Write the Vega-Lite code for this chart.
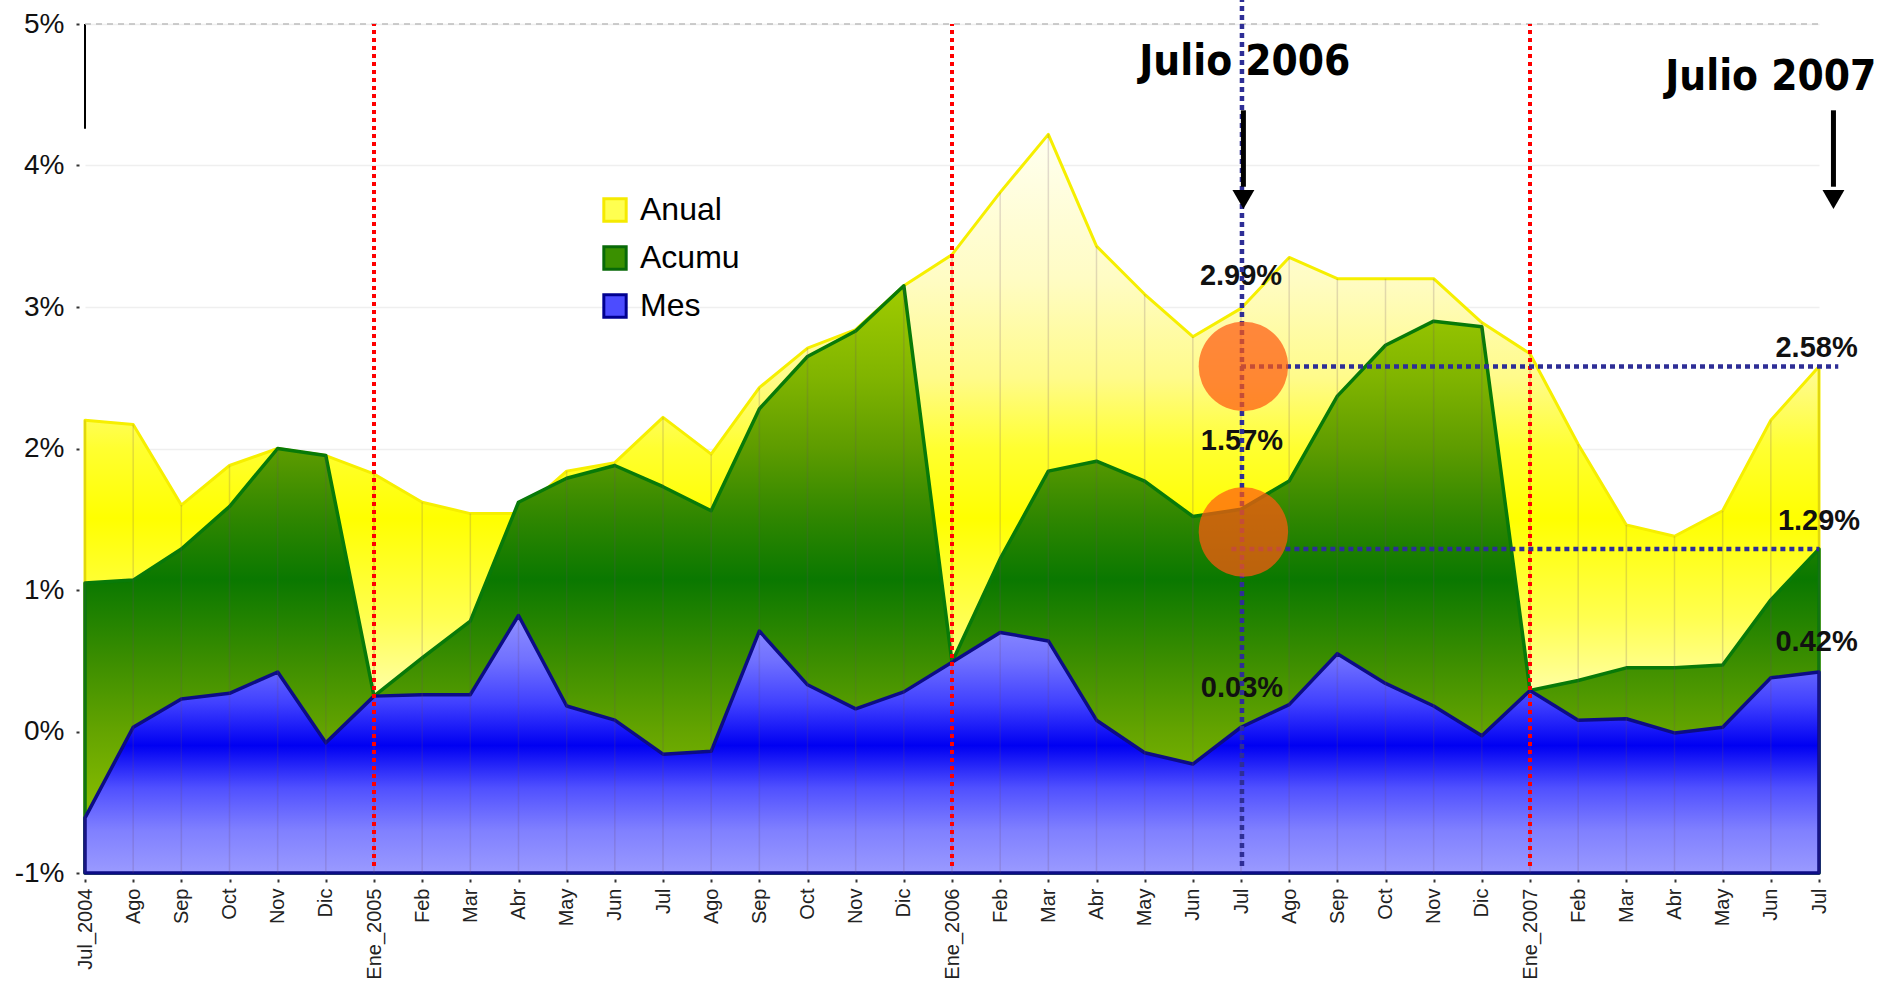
{
  "$schema": "https://vega.github.io/schema/vega-lite/v6.json",
  "width": 1734,
  "height": 849,
  "autosize": {"type": "none"},
  "padding": {"left": 85, "top": 24, "right": 64, "bottom": 112},
  "background": "white",
  "config": {"view": {"stroke": null}, "font": "Liberation Sans"},
  "datasets": {
    "series": [
      {"i": 0, "mes": "Jul_2004", "anual": 2.20, "acumu": 1.05, "mesv": -0.61},
      {"i": 1, "mes": "Ago", "anual": 2.17, "acumu": 1.07, "mesv": 0.03},
      {"i": 2, "mes": "Sep", "anual": 1.60, "acumu": 1.29, "mesv": 0.23},
      {"i": 3, "mes": "Oct", "anual": 1.88, "acumu": 1.59, "mesv": 0.27},
      {"i": 4, "mes": "Nov", "anual": 2.00, "acumu": 2.00, "mesv": 0.42},
      {"i": 5, "mes": "Dic", "anual": 1.95, "acumu": 1.95, "mesv": -0.08},
      {"i": 6, "mes": "Ene_2005", "anual": 1.82, "acumu": 0.25, "mesv": 0.25},
      {"i": 7, "mes": "Feb", "anual": 1.62, "acumu": 0.52, "mesv": 0.26},
      {"i": 8, "mes": "Mar", "anual": 1.54, "acumu": 0.78, "mesv": 0.26},
      {"i": 9, "mes": "Abr", "anual": 1.54, "acumu": 1.62, "mesv": 0.82},
      {"i": 10, "mes": "May", "anual": 1.84, "acumu": 1.79, "mesv": 0.18},
      {"i": 11, "mes": "Jun", "anual": 1.90, "acumu": 1.88, "mesv": 0.08},
      {"i": 12, "mes": "Jul", "anual": 2.22, "acumu": 1.73, "mesv": -0.16},
      {"i": 13, "mes": "Ago", "anual": 1.96, "acumu": 1.56, "mesv": -0.14},
      {"i": 14, "mes": "Sep", "anual": 2.43, "acumu": 2.28, "mesv": 0.71},
      {"i": 15, "mes": "Oct", "anual": 2.71, "acumu": 2.65, "mesv": 0.33},
      {"i": 16, "mes": "Nov", "anual": 2.84, "acumu": 2.83, "mesv": 0.16},
      {"i": 17, "mes": "Dic", "anual": 3.15, "acumu": 3.15, "mesv": 0.28},
      {"i": 18, "mes": "Ene_2006", "anual": 3.37, "acumu": 0.49, "mesv": 0.49},
      {"i": 19, "mes": "Feb", "anual": 3.81, "acumu": 1.22, "mesv": 0.70},
      {"i": 20, "mes": "Mar", "anual": 4.22, "acumu": 1.84, "mesv": 0.64},
      {"i": 21, "mes": "Abr", "anual": 3.43, "acumu": 1.91, "mesv": 0.08},
      {"i": 22, "mes": "May", "anual": 3.09, "acumu": 1.77, "mesv": -0.15},
      {"i": 23, "mes": "Jun", "anual": 2.79, "acumu": 1.52, "mesv": -0.23},
      {"i": 24, "mes": "Jul", "anual": 2.99, "acumu": 1.57, "mesv": 0.03},
      {"i": 25, "mes": "Ago", "anual": 3.35, "acumu": 1.77, "mesv": 0.19},
      {"i": 26, "mes": "Sep", "anual": 3.20, "acumu": 2.37, "mesv": 0.55},
      {"i": 27, "mes": "Oct", "anual": 3.20, "acumu": 2.73, "mesv": 0.34},
      {"i": 28, "mes": "Nov", "anual": 3.20, "acumu": 2.90, "mesv": 0.18},
      {"i": 29, "mes": "Dic", "anual": 2.89, "acumu": 2.86, "mesv": -0.03},
      {"i": 30, "mes": "Ene_2007", "anual": 2.67, "acumu": 0.29, "mesv": 0.29},
      {"i": 31, "mes": "Feb", "anual": 2.03, "acumu": 0.36, "mesv": 0.08},
      {"i": 32, "mes": "Mar", "anual": 1.46, "acumu": 0.45, "mesv": 0.09},
      {"i": 33, "mes": "Abr", "anual": 1.38, "acumu": 0.45, "mesv": -0.01},
      {"i": 34, "mes": "May", "anual": 1.56, "acumu": 0.47, "mesv": 0.03},
      {"i": 35, "mes": "Jun", "anual": 2.20, "acumu": 0.93, "mesv": 0.38},
      {"i": 36, "mes": "Jul", "anual": 2.58, "acumu": 1.29, "mesv": 0.42}
    ],
    "ene": [{"i": 6, "a": -0.95, "b": 5}, {"i": 18, "a": -0.95, "b": 5}, {"i": 30, "a": -0.95, "b": 5}],
    "hlines": [{"x1": 24, "x2": 36.4, "v": 2.58}, {"x1": 23.8, "x2": 36, "v": 1.29}],
    "circles": [{"i": 24.05, "v": 2.58}, {"i": 24.05, "v": 1.41}],
    "pct": [
      {"i": 24.0, "v": 3.22, "t": "2.99%"},
      {"i": 24.02, "v": 2.05, "t": "1.57%"},
      {"i": 24.02, "v": 0.31, "t": "0.03%"},
      {"i": 35.95, "v": 2.71, "t": "2.58%"},
      {"i": 36.0, "v": 1.49, "t": "1.29%"},
      {"i": 35.95, "v": 0.63, "t": "0.42%"}
    ],
    "titles": [
      {"i": 24.08, "v": 4.643, "t": "Julio 2006"},
      {"i": 35.0, "v": 4.534, "t": "Julio 2007"}
    ],
    "arrows": [
      {"i": 24.05, "v1": 4.39, "v2": 3.85, "vh": 3.76},
      {"i": 36.3, "v1": 4.39, "v2": 3.85, "vh": 3.76}
    ]
  },
  "layer": [
    {
      "data": {"name": "series"},
      "mark": {
        "type": "area",
        "stroke": "#f6ef00",
        "strokeWidth": 3,
        "strokeJoin": "round",
        "fill": {
          "gradient": "linear", "x1": 0, "y1": 0, "x2": 0, "y2": 1,
          "stops": [
            {"offset": 0, "color": "#fffff0"},
            {"offset": 0.195, "color": "#fffcc4"},
            {"offset": 0.33, "color": "#fffb8a"},
            {"offset": 0.425, "color": "#ffff30"},
            {"offset": 0.52, "color": "#ffff00"},
            {"offset": 0.655, "color": "#ffff50"},
            {"offset": 0.75, "color": "#ffffa0"},
            {"offset": 1, "color": "#ffffd0"}
          ]
        }
      },
      "encoding": {
        "x": {
          "field": "i", "type": "quantitative",
          "scale": {"domain": [0, 36], "nice": false, "zero": false},
          "axis": {
            "values": [0,1,2,3,4,5,6,7,8,9,10,11,12,13,14,15,16,17,18,19,20,21,22,23,24,25,26,27,28,29,30,31,32,33,34,35,36],
            "labelExpr": "['Jul_2004','Ago','Sep','Oct','Nov','Dic','Ene_2005','Feb','Mar','Abr','May','Jun','Jul','Ago','Sep','Oct','Nov','Dic','Ene_2006','Feb','Mar','Abr','May','Jun','Jul','Ago','Sep','Oct','Nov','Dic','Ene_2007','Feb','Mar','Abr','May','Jun','Jul'][datum.value]",
            "labelAngle": -90,
            "labelFontSize": 20,
            "labelFont": "Liberation Sans",
            "labelColor": "#222222",
            "labelOverlap": false,
            "labelPadding": 6,
            "tickSize": 3,
            "tickColor": "#333333",
            "tickWidth": 2,
            "offset": 6,
            "domain": false,
            "grid": false,
            "title": null
          }
        },
        "y": {
          "field": "anual", "type": "quantitative",
          "scale": {"domain": [-1, 5], "nice": false, "zero": false},
          "axis": {
            "values": [-1, 0, 1, 2, 3, 4, 5],
            "labelExpr": "datum.value + '%'",
            "labelFontSize": 28,
            "labelFont": "Liberation Sans",
            "labelColor": "#111111",
            "labelPadding": 12,
            "tickSize": 3,
            "tickColor": "#333333",
            "tickWidth": 2,
            "offset": 6,
            "domain": false,
            "grid": true,
            "gridColor": "#efefef",
            "gridWidth": 1.5,
            "title": null
          }
        },
        "y2": {"datum": -1}
      }
    },
    {
      "data": {"name": "series"},
      "mark": {
        "type": "area",
        "stroke": "#087a08",
        "strokeWidth": 3.5,
        "strokeJoin": "round",
        "fill": {
          "gradient": "linear", "x1": 0, "y1": 0, "x2": 0, "y2": 1,
          "stops": [
            {"offset": 0, "color": "#a0cc00"},
            {"offset": 0.157, "color": "#80b400"},
            {"offset": 0.277, "color": "#5e9c00"},
            {"offset": 0.398, "color": "#2e8600"},
            {"offset": 0.5, "color": "#0a7800"},
            {"offset": 0.639, "color": "#3c8e00"},
            {"offset": 0.759, "color": "#64a400"},
            {"offset": 0.88, "color": "#84ba00"},
            {"offset": 1, "color": "#90c000"}
          ]
        }
      },
      "encoding": {
        "x": {"field": "i", "type": "quantitative", "scale": {"domain": [0, 36], "nice": false, "zero": false}},
        "y": {"field": "acumu", "type": "quantitative", "scale": {"domain": [-1, 5], "nice": false, "zero": false}},
        "y2": {"datum": -1}
      }
    },
    {
      "data": {"name": "series"},
      "mark": {
        "type": "area",
        "stroke": "#0c0c86",
        "strokeWidth": 3.5,
        "strokeJoin": "round",
        "fill": {
          "gradient": "linear", "x1": 0, "y1": 0, "x2": 0, "y2": 1,
          "stops": [
            {"offset": 0, "color": "#9090ff"},
            {"offset": 0.176, "color": "#7070ff"},
            {"offset": 0.341, "color": "#4040ff"},
            {"offset": 0.505, "color": "#0000f2"},
            {"offset": 0.67, "color": "#5050ff"},
            {"offset": 0.835, "color": "#8080ff"},
            {"offset": 1, "color": "#9a9aff"}
          ]
        }
      },
      "encoding": {
        "x": {"field": "i", "type": "quantitative", "scale": {"domain": [0, 36], "nice": false, "zero": false}},
        "y": {"field": "mesv", "type": "quantitative", "scale": {"domain": [-1, 5], "nice": false, "zero": false}},
        "y2": {"datum": -1}
      }
    },
    {
      "data": {"name": "series"},
      "mark": {"type": "rule", "stroke": "#6a4a6a", "strokeOpacity": 0.2, "strokeWidth": 1.5},
      "encoding": {
        "x": {"field": "i", "type": "quantitative", "scale": {"domain": [0, 36], "nice": false, "zero": false}},
        "y": {"field": "anual", "type": "quantitative", "scale": {"domain": [-1, 5], "nice": false, "zero": false}},
        "y2": {"datum": -1}
      }
    },
    {
      "data": {"values": [{"i": 0, "a": 4.26, "b": 5}]},
      "mark": {"type": "rule", "stroke": "#000000", "strokeWidth": 2},
      "encoding": {
        "x": {"field": "i", "type": "quantitative", "scale": {"domain": [0, 36], "nice": false, "zero": false}},
        "y": {"field": "a", "type": "quantitative", "scale": {"domain": [-1, 5], "nice": false, "zero": false}},
        "y2": {"field": "b"}
      }
    },
    {
      "data": {"values": [{"x1": 0, "x2": 36, "v": 5}]},
      "mark": {"type": "rule", "stroke": "#bdbdbd", "strokeWidth": 1.5, "strokeDash": [6, 5]},
      "encoding": {
        "x": {"field": "x1", "type": "quantitative", "scale": {"domain": [0, 36], "nice": false, "zero": false}},
        "x2": {"field": "x2"},
        "y": {"field": "v", "type": "quantitative", "scale": {"domain": [-1, 5], "nice": false, "zero": false}}
      }
    },
    {
      "data": {"name": "ene"},
      "mark": {"type": "rule", "stroke": "#ff0000", "strokeWidth": 4, "strokeDash": [4, 4]},
      "encoding": {
        "x": {"field": "i", "type": "quantitative", "scale": {"domain": [0, 36], "nice": false, "zero": false}},
        "y": {"field": "a", "type": "quantitative", "scale": {"domain": [-1, 5], "nice": false, "zero": false}},
        "y2": {"field": "b"}
      }
    },
    {
      "data": {"name": "pct"},
      "mark": {"type": "text", "font": "Liberation Sans", "fontWeight": "bold", "fontSize": 29, "color": "#111111", "align": "center", "baseline": "middle"},
      "encoding": {
        "x": {"field": "i", "type": "quantitative", "scale": {"domain": [0, 36], "nice": false, "zero": false}},
        "y": {"field": "v", "type": "quantitative", "scale": {"domain": [-1, 5], "nice": false, "zero": false}},
        "text": {"field": "t"}
      }
    },
    {
      "data": {"values": [{"i": 24.02, "a": -0.95, "b": 5.17}]},
      "mark": {"type": "rule", "stroke": "#2e2e96", "strokeWidth": 4.5, "strokeDash": [5, 4]},
      "encoding": {
        "x": {"field": "i", "type": "quantitative", "scale": {"domain": [0, 36], "nice": false, "zero": false}},
        "y": {"field": "a", "type": "quantitative", "scale": {"domain": [-1, 5], "nice": false, "zero": false}},
        "y2": {"field": "b"}
      }
    },
    {
      "data": {"name": "hlines"},
      "mark": {"type": "rule", "stroke": "#2e2e96", "strokeWidth": 4.5, "strokeDash": [5, 4]},
      "encoding": {
        "x": {"field": "x1", "type": "quantitative", "scale": {"domain": [0, 36], "nice": false, "zero": false}},
        "x2": {"field": "x2"},
        "y": {"field": "v", "type": "quantitative", "scale": {"domain": [-1, 5], "nice": false, "zero": false}}
      }
    },
    {
      "data": {"name": "circles"},
      "mark": {"type": "point", "shape": "circle", "filled": true, "size": 8000, "color": "#ff5a10", "opacity": 0.72},
      "encoding": {
        "x": {"field": "i", "type": "quantitative", "scale": {"domain": [0, 36], "nice": false, "zero": false}},
        "y": {"field": "v", "type": "quantitative", "scale": {"domain": [-1, 5], "nice": false, "zero": false}}
      }
    },
    {
      "data": {"name": "titles"},
      "mark": {"type": "text", "font": "DejaVu Sans Condensed, Liberation Sans", "fontWeight": "bold", "fontSize": 42, "color": "#000000", "align": "center", "baseline": "alphabetic"},
      "encoding": {
        "x": {"field": "i", "type": "quantitative", "scale": {"domain": [0, 36], "nice": false, "zero": false}},
        "y": {"field": "v", "type": "quantitative", "scale": {"domain": [-1, 5], "nice": false, "zero": false}},
        "text": {"field": "t"}
      }
    },
    {
      "data": {"name": "arrows"},
      "mark": {"type": "rule", "stroke": "#000000", "strokeWidth": 5},
      "encoding": {
        "x": {"field": "i", "type": "quantitative", "scale": {"domain": [0, 36], "nice": false, "zero": false}},
        "y": {"field": "v1", "type": "quantitative", "scale": {"domain": [-1, 5], "nice": false, "zero": false}},
        "y2": {"field": "v2"}
      }
    },
    {
      "data": {"name": "arrows"},
      "mark": {"type": "point", "shape": "triangle-down", "filled": true, "size": 480, "color": "#000000", "opacity": 1},
      "encoding": {
        "x": {"field": "i", "type": "quantitative", "scale": {"domain": [0, 36], "nice": false, "zero": false}},
        "y": {"field": "vh", "type": "quantitative", "scale": {"domain": [-1, 5], "nice": false, "zero": false}}
      }
    },
    {
      "data": {"values": [{"serie": "Anual", "i": 0, "v": 5}, {"serie": "Acumu", "i": 0, "v": 5}, {"serie": "Mes", "i": 0, "v": 5}]},
      "mark": {"type": "point", "shape": "square", "filled": true, "opacity": 0},
      "encoding": {
        "x": {"field": "i", "type": "quantitative", "scale": {"domain": [0, 36], "nice": false, "zero": false}},
        "y": {"field": "v", "type": "quantitative", "scale": {"domain": [-1, 5], "nice": false, "zero": false}},
        "fill": {
          "field": "serie", "type": "nominal",
          "scale": {"domain": ["Anual", "Acumu", "Mes"], "range": ["#ffff50", "#3a9000", "#4c4cff"]},
          "legend": {"orient": "none", "legendX": 514, "legendY": 170, "title": null, "symbolType": "square", "symbolSize": 500, "symbolStrokeWidth": 3, "symbolOpacity": 1, "labelFontSize": 32, "labelFont": "Liberation Sans", "labelColor": "#000000", "rowPadding": 12, "labelOffset": 9}
        },
        "stroke": {
          "field": "serie", "type": "nominal",
          "scale": {"domain": ["Anual", "Acumu", "Mes"], "range": ["#f5ea00", "#086a08", "#000090"]},
          "legend": {"orient": "none", "legendX": 514, "legendY": 170, "title": null, "symbolType": "square", "symbolSize": 500, "symbolStrokeWidth": 3, "symbolOpacity": 1, "labelFontSize": 32, "labelFont": "Liberation Sans", "labelColor": "#000000", "rowPadding": 12, "labelOffset": 9}
        }
      }
    }
  ]
}
